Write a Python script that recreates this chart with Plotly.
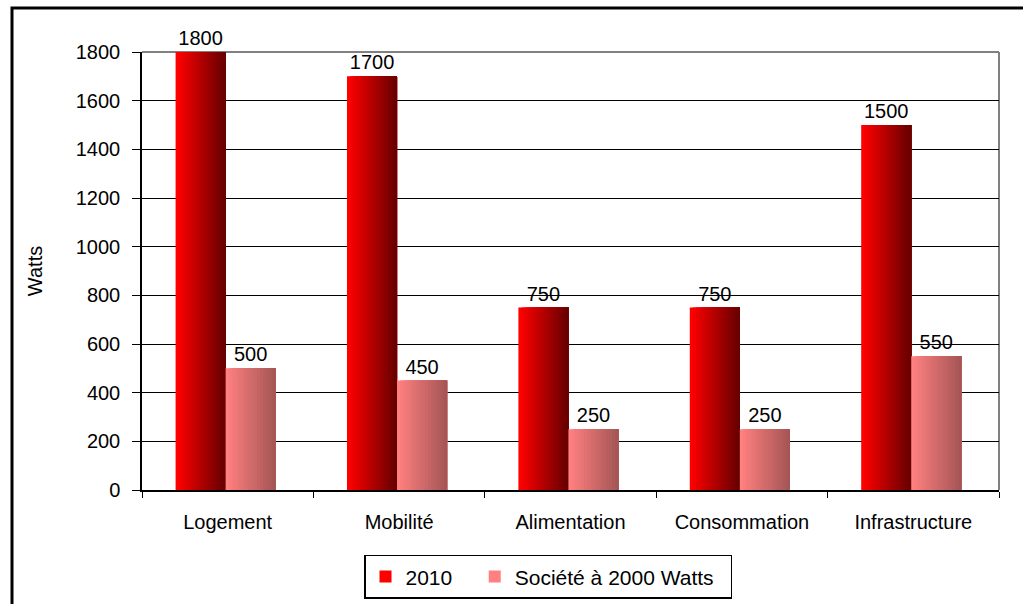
import plotly.graph_objects as go

categories = ["Logement", "Mobilité", "Alimentation", "Consommation", "Infrastructure"]
series_names = ["2010", "Société à 2000 Watts"]
values_2010 = [1800, 1700, 750, 750, 1500]
values_2000w = [500, 450, 250, 250, 550]
y_ticks = [0, 200, 400, 600, 800, 1000, 1200, 1400, 1600, 1800]

series = [values_2010, values_2000w]
grad = [((255, 0, 0), (105, 0, 0)), ((255, 128, 128), (166, 86, 86))]
NBSP = "\u00a0"
legend_pad = [NBSP * 3, NBSP * 2]

FONT = "Liberation Sans, Arial, sans-serif"
FS = 20
N = 16
bar_w = 0.292  # width of one bar in category units
shift = -0.012
fig = go.Figure()
for s, vals in enumerate(series):
    c0, c1 = grad[s]
    step = bar_w / N
    for k in range(N):
        t = k / (N - 1)
        col = "rgb(%d,%d,%d)" % tuple(round(a + (b - a) * t) for a, b in zip(c0, c1))
        start = shift - bar_w + s * bar_w + k * step
        fig.add_trace(go.Bar(
            x=categories, y=vals,
            width=bar_w - k * step,
            offset=start,
            marker=dict(color=col, line=dict(width=0)),
            name=series_names[s] + legend_pad[s],
            showlegend=(k == 0),
            legendgroup=series_names[s],
            text=[str(v) for v in vals] if k == 0 else None,
            textposition="outside" if k == 0 else "none",
            textfont=dict(family=FONT, size=FS, color="black"),
            cliponaxis=False,
        ))

W, H = 1023, 604
L, R, T, B = 142, 24, 51.5, 114
pw, ph = W - L - R, H - T - B

def px_x(p):
    return (p - L) / pw

def px_y(p):
    return (H - B - p) / ph

fig.update_layout(
    width=W, height=H,
    margin=dict(l=L, r=R, t=T, b=B, pad=0, autoexpand=False),
    barmode="overlay",
    paper_bgcolor="white", plot_bgcolor="white",
    font=dict(family=FONT, size=FS, color="black"),
    showlegend=True,
    legend=dict(orientation="h", x=px_x(364), xanchor="left", y=px_y(555), yanchor="top",
                bordercolor="black", borderwidth=1.5, font=dict(size=21),
                itemwidth=30, traceorder="normal"),
    shapes=[
        dict(type="line", xref="paper", yref="paper", x0=0, x1=1, y0=1, y1=1,
             line=dict(color="#808080", width=2), layer="between"),
        dict(type="line", xref="paper", yref="paper", x0=1, x1=1, y0=0, y1=1,
             line=dict(color="#808080", width=2), layer="between"),
        dict(type="rect", xref="paper", yref="paper",
             x0=px_x(12), x1=px_x(1040), y0=px_y(620), y1=px_y(7.5),
             line=dict(color="black", width=3), fillcolor="rgba(0,0,0,0)", layer="above"),
    ],
)
fig.update_xaxes(
    type="category", showline=True, linecolor="black", linewidth=1.5,
    ticks="outside", tickson="boundaries", ticklen=6, tickcolor="black", tickwidth=1,
    ticklabelstandoff=13, showgrid=False, tickfont=dict(size=FS),
)
fig.update_yaxes(
    range=[0, 1800], tickvals=y_ticks, showline=True, linecolor="black", linewidth=1.5,
    ticks="outside", ticklen=8, tickcolor="black", tickwidth=1, ticklabelstandoff=8,
    showgrid=True, gridcolor="black", gridwidth=1, zeroline=False,
    tickfont=dict(size=FS),
    title=dict(text="Watts", font=dict(size=FS), standoff=28),
)

fig.write_html("out.html", config={"displayModeBar": False},
               post_script="document.body.style.margin='0';document.body.style.overflow='hidden';")
